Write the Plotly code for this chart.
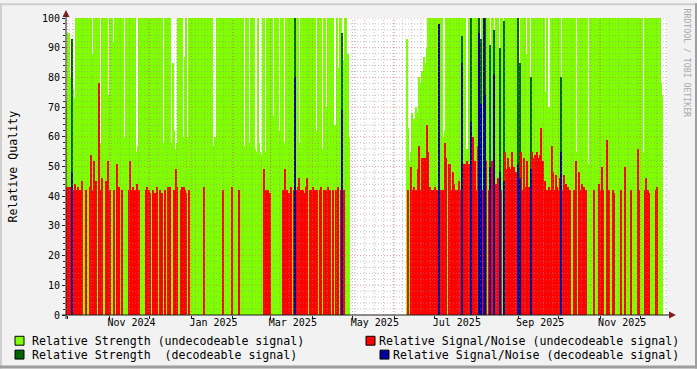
import pandas as pd
import plotly.graph_objects as go

# ---------------- data (one value per day) ----------------
start_a = "2024-09-30"   # first segment: 2024-09-30 .. 2025-04-28
start_b = "2025-06-10"   # second segment: 2025-06-10 .. 2025-12-17

strength_a = [
    72, 95, 95, 80, 93, 76, 73, 100, 100, 100,
    100, 100, 100, 100, 100, 56, 100, 100, 100, 88,
    100, 83, 100, 100, 100, 58, 100, 100, 100, 100,
    100, 74, 100, 100, 100, 92, 100, 100, 100, 100,
    100, 100, 100, 60, 100, 100, 100, 100, 100, 100,
    100, 100, 55, 57, 100, 100, 100, 100, 100, 100,
    100, 100, 100, 100, 100, 100, 100, 100, 100, 100,
    100, 100, 58, 100, 100, 100, 100, 100, 58, 85,
    62, 56, 58, 100, 100, 100, 100, 60, 87, 100,
    60, 100, 100, 100, 100, 100, 100, 100, 100, 60,
    100, 100, 100, 100, 100, 100, 100, 100, 100, 57,
    60, 58, 100, 100, 100, 100, 100, 100, 100, 100,
    100, 100, 100, 62, 100, 100, 100, 100, 100, 100,
    100, 100, 57, 100, 100, 100, 58, 100, 100, 100,
    56, 55, 100, 58, 55, 54, 100, 100, 55, 100,
    100, 100, 100, 100, 67, 100, 100, 100, 62, 100,
    100, 100, 58, 100, 100, 100, 100, 100, 100, 100,
    100, 100, 100, 58, 100, 100, 100, 100, 100, 100,
    100, 57, 100, 100, 60, 100, 62, 100, 100, 100,
    56, 100, 100, 70, 100, 100, 100, 100, 100, 64,
    64, 100, 83, 100, 100, 95, 86, 100, 100, 88,
    60,
]
snr_a = [
    43, 43, 43, 43, 48, 42, 44, 42, 43, 0,
    42, 45, 0, 0, 42, 0, 0, 43, 54, 42,
    52, 42, 45, 0, 78, 42, 46, 0, 0, 45,
    42, 52, 42, 0, 0, 42, 0, 51, 42, 43,
    0, 42, 0, 0, 0, 0, 42, 52, 42, 43,
    0, 42, 44, 42, 42, 0, 0, 0, 0, 42,
    43, 42, 41, 0, 42, 0, 41, 43, 0, 42,
    0, 41, 0, 42, 0, 43, 42, 43, 0, 0,
    42, 49, 43, 0, 0, 42, 43, 43, 42, 41,
    0, 42, 0, 0, 0, 0, 0, 0, 0, 0,
    0, 0, 43, 0, 0, 0, 0, 0, 0, 0,
    0, 0, 0, 0, 0, 0, 42, 0, 0, 0,
    0, 0, 0, 43, 0, 0, 0, 0, 42, 0,
    0, 0, 0, 0, 0, 0, 0, 0, 0, 0,
    0, 0, 0, 0, 0, 0, 0, 49, 42, 0,
    42, 41, 0, 0, 0, 0, 0, 0, 0, 0,
    0, 42, 49, 0, 42, 41, 0, 43, 0, 42,
    80, 42, 43, 46, 42, 0, 42, 41, 43, 46,
    0, 42, 42, 43, 0, 42, 42, 0, 42, 43,
    0, 42, 0, 42, 43, 0, 42, 0, 42, 0,
    42, 0, 43, 0, 42, 69, 42, 0, 0, 0,
    0,
]
decodeable_a = [4, 170, 205]          # day offsets from start_a

strength_b = [
    93, 63, 52, 55, 68, 66, 60, 70, 68, 80,
    78, 82, 76, 87, 85, 90, 100, 100, 100, 100,
    100, 100, 100, 100, 98, 100, 100, 60, 62, 100,
    100, 100, 100, 100, 100, 100, 100, 100, 100, 100,
    100, 94, 100, 100, 54, 56, 100, 100, 100, 100,
    100, 100, 100, 100, 100, 93, 100, 100, 100, 100,
    100, 100, 91, 100, 100, 96, 100, 66, 100, 90,
    100, 100, 99, 100, 100, 100, 100, 100, 100, 100,
    100, 100, 100, 100, 85, 100, 100, 100, 100, 88,
    100, 100, 80, 100, 100, 100, 100, 100, 100, 100,
    100, 100, 100, 75, 100, 62, 70, 100, 85, 100,
    100, 100, 100, 100, 100, 80, 100, 100, 100, 100,
    100, 100, 100, 100, 100, 100, 55, 100, 100, 100,
    100, 100, 100, 100, 100, 51, 100, 100, 100, 100,
    100, 100, 100, 100, 100, 100, 100, 100, 100, 100,
    100, 100, 100, 100, 100, 100, 100, 100, 100, 100,
    100, 100, 100, 100, 100, 100, 100, 100, 100, 100,
    100, 100, 100, 100, 100, 100, 55, 100, 100, 100,
    100, 100, 100, 57, 100, 100, 100, 100, 100, 78,
    74,
]
snr_b = [
    0, 42, 0, 50, 42, 43, 42, 42, 49, 57,
    42, 53, 53, 53, 53, 64, 55, 43, 42, 42,
    42, 43, 42, 42, 98, 42, 42, 42, 58, 53,
    0, 51, 51, 42, 48, 44, 42, 42, 0, 45,
    42, 85, 51, 51, 42, 52, 51, 42, 65, 60,
    0, 52, 42, 57, 95, 71, 42, 100, 74, 52,
    0, 42, 50, 52, 42, 81, 44, 0, 46, 48,
    42, 0, 45, 55, 49, 53, 50, 49, 55, 50,
    50, 48, 42, 51, 46, 55, 42, 53, 43, 52,
    42, 43, 49, 55, 53, 54, 53, 55, 53, 54,
    63, 52, 42, 45, 42, 0, 43, 42, 57, 48,
    42, 47, 43, 42, 46, 55, 42, 47, 44, 42,
    43, 42, 0, 0, 42, 0, 52, 0, 48, 42,
    44, 42, 43, 42, 0, 0, 0, 0, 0, 42,
    0, 0, 0, 44, 42, 50, 42, 0, 0, 59,
    42, 0, 0, 42, 41, 0, 0, 0, 0, 42,
    0, 0, 50, 0, 0, 0, 0, 42, 0, 0,
    0, 0, 56, 42, 0, 0, 0, 42, 46, 42,
    41, 0, 0, 0, 0, 42, 43, 0, 0, 0,
    0,
]
decodeable_b = [24, 41, 48, 54, 55, 57, 58, 62, 65, 69, 72, 83, 84, 92, 115]

x_labels = ["Nov 2024", "Jan 2025", "Mar 2025", "May 2025", "Jul 2025", "Sep 2025", "Nov 2025"]
x_label_months = ["2024-11-01", "2025-01-01", "2025-03-01", "2025-05-01", "2025-07-01", "2025-09-01", "2025-11-01"]
legend_labels = [
    "Relative Strength (undecodeable signal)",
    "Relative Strength  (decodeable signal)",
    "Relative Signal/Noise (undecodeable signal)",
    "Relative Signal/Noise (decodeable signal)",
]

C_GREEN = "#80FF00"
C_DGREEN = "#006400"
C_RED = "#FF0000"
C_BLUE = "#00009C"

# ---------------- build series ----------------
dates_a = pd.date_range(start_a, periods=len(strength_a), freq="D") + pd.Timedelta(hours=12)
dates_b = pd.date_range(start_b, periods=len(strength_b), freq="D") + pd.Timedelta(hours=12)
dates = list(dates_a) + list(dates_b)
strength = strength_a + strength_b
snr = snr_a + snr_b
dec = [False] * len(strength)
for i in decodeable_a:
    dec[i] = True
for i in decodeable_b:
    dec[len(strength_a) + i] = True

s_und = [s if not d else None for s, d in zip(strength, dec)]
s_dec = [s if d else None for s, d in zip(strength, dec)]
n_und = [(n if n > 0 else None) if not d else None for n, d in zip(snr, dec)]
n_dec = [n if d else None for n, d in zip(snr, dec)]

BAR_W = 86400000 * 1.04
fig = go.Figure()
for yv, col in [(s_und, C_GREEN), (s_dec, C_DGREEN), (n_und, C_RED), (n_dec, C_BLUE)]:
    fig.add_trace(go.Bar(x=dates, y=yv, width=BAR_W, marker=dict(color=col, line=dict(width=0)),
                         showlegend=False, hoverinfo="skip"))

# ---------------- geometry ----------------
W, H = 697, 369
L, R, T, B = 66, 667, 15, 315
X0 = pd.Timestamp("2024-09-29 19:00")
X1 = pd.Timestamp("2025-12-20 20:00")

def px(xp):
    return (xp - L) / (R - L)

def py(yp):
    return (B - yp) / (B - T)

shapes = []
# grid lines (drawn above the areas like rrdtool)
GRID = "rgba(143,143,143,0.55)"
MGRID = "rgba(222,79,79,0.55)"
for v in range(2, 101, 2):
    major = v % 10 == 0
    shapes.append(dict(type="line", xref="paper", yref="y", x0=0, x1=1, y0=v, y1=v,
                       line=dict(color=MGRID if major else GRID, width=1, dash="1px,2px"), layer="above"))
for d in pd.date_range("2024-10-05", X1, freq="7D"):
    shapes.append(dict(type="line", xref="x", yref="paper", x0=d, x1=d, y0=0, y1=1,
                       line=dict(color=GRID, width=1, dash="1px,2px"), layer="above"))
for d in pd.date_range("2024-10-01", X1, freq="MS"):
    shapes.append(dict(type="line", xref="x", yref="paper", x0=d, x1=d, y0=0, y1=1,
                       line=dict(color=MGRID, width=1, dash="1px,2px"), layer="above"))

# axes lines and arrows
AX = "#1F1F1F"
shapes.append(dict(type="line", xref="paper", yref="paper", x0=px(62), x1=px(671), y0=0, y1=0,
                   line=dict(color=AX, width=1), layer="above"))
shapes.append(dict(type="line", xref="paper", yref="paper", x0=0, x1=0, y0=py(319), y1=py(12),
                   line=dict(color=AX, width=1), layer="above"))
ARROW = "#801F1F"
shapes.append(dict(type="path", xref="paper", yref="paper",
                   path=f"M {px(62.5)},{py(14)} L {px(66)},{py(7)} L {px(69.5)},{py(14)} Z",
                   fillcolor=ARROW, line=dict(width=0), layer="above"))
shapes.append(dict(type="path", xref="paper", yref="paper",
                   path=f"M {px(669)},{py(311.5)} L {px(676)},{py(315)} L {px(669)},{py(318.5)} Z",
                   fillcolor=ARROW, line=dict(width=0), layer="above"))

# image frame shading
shapes.append(dict(type="rect", xref="paper", yref="paper", x0=px(0), x1=px(2), y0=py(H), y1=py(0),
                   fillcolor="#CFCFCF", line=dict(width=0)))
shapes.append(dict(type="rect", xref="paper", yref="paper", x0=px(0), x1=px(W), y0=py(2), y1=py(0),
                   fillcolor="#CFCFCF", line=dict(width=0)))
shapes.append(dict(type="rect", xref="paper", yref="paper", x0=px(W - 2), x1=px(W), y0=py(H), y1=py(0),
                   fillcolor="#9E9E9E", line=dict(width=0)))
shapes.append(dict(type="rect", xref="paper", yref="paper", x0=px(0), x1=px(W), y0=py(H), y1=py(H - 3),
                   fillcolor="#9E9E9E", line=dict(width=0)))

annotations = []
# legend (manual, rrdtool style)
FONT = "DejaVu Sans Mono"
leg = [
    (15, 341, C_GREEN, legend_labels[0], "left", 30),
    (15, 355, C_DGREEN, legend_labels[1], "left", 30),
    (366, 341, C_RED, legend_labels[2], "right", 681),
    (380, 355, C_BLUE, legend_labels[3], "right", 681),
]
for bx, cy, col, txt, anchor, tx in leg:
    shapes.append(dict(type="rect", xref="paper", yref="paper", x0=px(bx), x1=px(bx + 9),
                       y0=py(cy + 4.5), y1=py(cy - 4.5), fillcolor=col, line=dict(color="black", width=1)))
    annotations.append(dict(xref="paper", yref="paper", x=px(tx), y=py(cy), text=txt, showarrow=False,
                            xanchor=anchor, yanchor="middle", font=dict(family=FONT, size=11.6, color="black")))

annotations.append(dict(xref="paper", yref="paper", x=px(12), y=py(165), text="Relative Quality",
                        textangle=-90, showarrow=False, xanchor="center", yanchor="middle",
                        font=dict(family=FONT, size=11.6, color="black")))
annotations.append(dict(xref="paper", yref="paper", x=px(687), y=py(60), text="RRDTOOL / TOBI OETIKER",
                        textangle=90, showarrow=False, xanchor="center", yanchor="middle",
                        font=dict(family=FONT, size=8.2, color="#A8A8A8")))

tick_pos = [pd.Timestamp(m) + pd.Timedelta(days=16, hours=12) for m in x_label_months]

fig.update_layout(
    width=W, height=H,
    margin=dict(l=L, r=W - R, t=T, b=H - B, pad=0),
    paper_bgcolor="#F2F2F2", plot_bgcolor="white",
    barmode="overlay", bargap=0,
    shapes=shapes, annotations=annotations,
    showlegend=False,
    font=dict(family=FONT, size=10, color="black"),
    xaxis=dict(type="date", range=[X0, X1], showgrid=False, zeroline=False, showline=False,
               tickmode="array", tickvals=tick_pos, ticktext=x_labels, ticks="",
               tickfont=dict(family=FONT, size=10, color="black"),
               minor=dict(ticks="outside", ticklen=3, tickcolor=AX, dtick="M1", tick0="2024-10-01",
                          showgrid=False)),
    yaxis=dict(range=[0, 100], showgrid=False, zeroline=False, showline=False,
               tickmode="linear", tick0=0, dtick=10, ticks="outside", ticklen=3, tickcolor=AX,
               tickfont=dict(family=FONT, size=10, color="black"),
               minor=dict(ticks="outside", ticklen=2, tickcolor=AX, dtick=2, showgrid=False)),
)

fig.write_html("out.html", config={"displayModeBar": False})
